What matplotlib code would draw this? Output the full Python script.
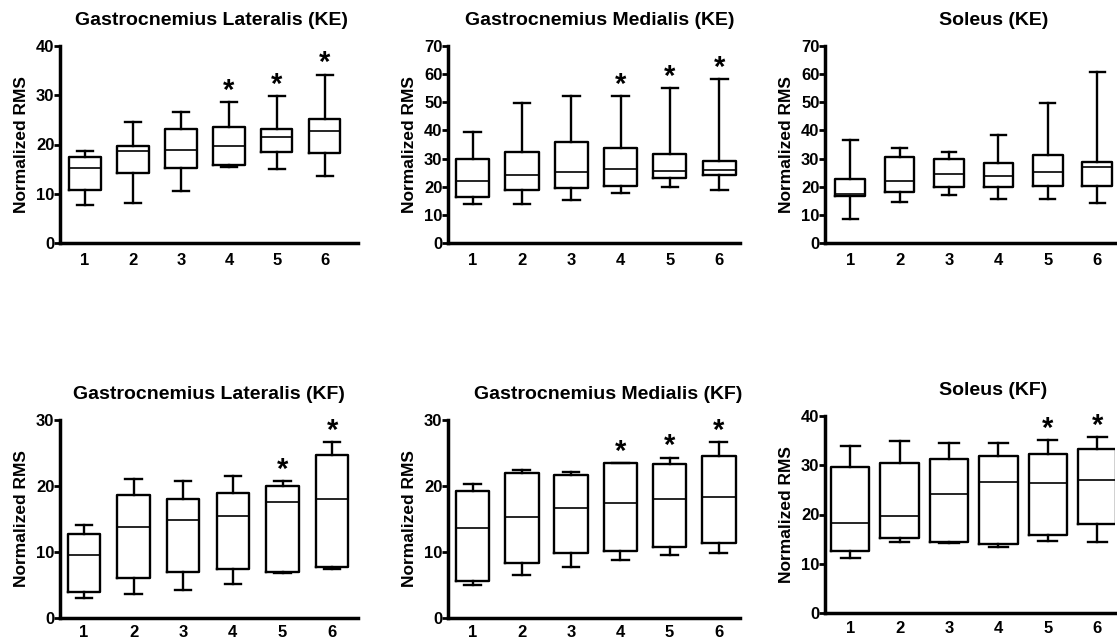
import matplotlib
matplotlib.use('Agg')
import matplotlib.pyplot as plt

plt.rcParams['font.family'] = ['Liberation Sans', 'DejaVu Sans']
plt.rcParams['font.weight'] = 'bold'

groups = ['1', '2', '3', '4', '5', '6']

# Gastrocnemius Lateralis (KE)
gl_ke_low = [7.8, 8.2, 10.5, 15.5, 15.1, 13.6]
gl_ke_q1 = [10.8, 14.2, 15.3, 15.8, 18.4, 18.2]
gl_ke_med = [15.2, 18.7, 18.8, 19.6, 21.5, 22.8]
gl_ke_q3 = [17.4, 19.7, 23.1, 23.6, 23.1, 25.1]
gl_ke_high = [18.7, 24.5, 26.6, 28.6, 29.8, 34.2]
gl_ke_star = ['4', '5', '6']

# Gastrocnemius Medialis (KE)
gm_ke_low = [13.9, 13.9, 15.2, 17.6, 19.8, 18.9]
gm_ke_q1 = [16.4, 18.9, 19.4, 20.4, 23.0, 24.0]
gm_ke_med = [22.2, 24.1, 25.1, 26.3, 25.6, 26.1]
gm_ke_q3 = [29.8, 32.2, 35.9, 33.6, 31.8, 29.2]
gm_ke_high = [39.3, 49.6, 52.2, 52.2, 55.1, 58.3]
gm_ke_star = ['4', '5', '6']

# Soleus (KE)
sol_ke_low = [8.4, 14.6, 16.9, 15.8, 15.8, 14.1]
sol_ke_q1 = [16.6, 18.0, 19.9, 19.8, 20.2, 20.1]
sol_ke_med = [17.4, 22.2, 24.6, 23.9, 25.1, 27.1]
sol_ke_q3 = [22.7, 30.7, 29.8, 28.6, 31.2, 28.7]
sol_ke_high = [36.5, 33.6, 32.2, 38.4, 49.8, 60.6]
sol_ke_star = []

# Gastrocnemius Lateralis (KF)
gl_kf_low = [3.0, 3.7, 4.2, 5.2, 6.8, 7.5]
gl_kf_q1 = [3.9, 6.1, 6.9, 7.4, 6.9, 7.7]
gl_kf_med = [9.6, 13.8, 14.8, 15.4, 17.6, 18.0]
gl_kf_q3 = [12.7, 18.6, 18.0, 19.0, 20.0, 24.7]
gl_kf_high = [14.1, 21.0, 20.8, 21.5, 20.8, 26.7]
gl_kf_star = ['5', '6']

# Gastrocnemius Medialis (KF)
gm_kf_low = [5.0, 6.5, 7.8, 8.8, 9.5, 9.8]
gm_kf_q1 = [5.6, 8.4, 9.9, 10.2, 10.8, 11.3]
gm_kf_med = [13.6, 15.3, 16.6, 17.4, 18.0, 18.3]
gm_kf_q3 = [19.2, 22.0, 21.7, 23.5, 23.3, 24.5]
gm_kf_high = [20.3, 22.4, 22.1, 23.5, 24.3, 26.7]
gm_kf_star = ['4', '5', '6']

# Soleus (KF)
sol_kf_low = [11.1, 14.4, 14.3, 13.4, 14.7, 14.4]
sol_kf_q1 = [12.6, 15.3, 14.5, 14.0, 15.9, 18.1]
sol_kf_med = [18.2, 19.6, 24.2, 26.5, 26.3, 27.0]
sol_kf_q3 = [29.6, 30.4, 31.3, 31.8, 32.3, 33.2]
sol_kf_high = [34.0, 34.9, 34.6, 34.6, 35.1, 35.8]
sol_kf_star = ['5', '6']

titles = ['Gastrocnemius Lateralis (KE)', 'Gastrocnemius Medialis (KE)', 'Soleus (KE)',
          'Gastrocnemius Lateralis (KF)', 'Gastrocnemius Medialis (KF)', 'Soleus (KF)']
ylabel = 'Normalized RMS'

panels = [
    (gl_ke_low, gl_ke_q1, gl_ke_med, gl_ke_q3, gl_ke_high, gl_ke_star),
    (gm_ke_low, gm_ke_q1, gm_ke_med, gm_ke_q3, gm_ke_high, gm_ke_star),
    (sol_ke_low, sol_ke_q1, sol_ke_med, sol_ke_q3, sol_ke_high, sol_ke_star),
    (gl_kf_low, gl_kf_q1, gl_kf_med, gl_kf_q3, gl_kf_high, gl_kf_star),
    (gm_kf_low, gm_kf_q1, gm_kf_med, gm_kf_q3, gm_kf_high, gm_kf_star),
    (sol_kf_low, sol_kf_q1, sol_kf_med, sol_kf_q3, sol_kf_high, sol_kf_star),
]

W, H = 1117, 642
# layout in pixels: (left, right, y of top tick, y of zero)
layout = [
    (60, 358, 46, 243), (448, 740, 46, 243), (825, 1115, 46, 243),
    (60, 358, 420, 618), (448, 740, 420, 618), (825, 1115, 416, 613),
]
ymax = [40, 70, 70, 30, 30, 40]
xlims = [(0.48, 6.69), (0.5, 6.42), (0.49, 6.36), (0.52, 6.52), (0.5, 6.43), (0.49, 6.36)]
widths = [0.65, 0.67, 0.6, 0.65, 0.68, 0.78]
title_x = [0.51, 0.52, 0.58, 0.50, 0.55, 0.58]
title_pad = [15, 15, 15, 15, 15, 15]
xlab_pad = [7, 7, 7, 5, 5, 6]

fig = plt.figure(figsize=(W / 100, H / 100), dpi=100)

for i, (low, q1, med, q3, high, stars) in enumerate(panels):
    l, r, yt, y0 = layout[i]
    ax = fig.add_axes([l / W, 1 - y0 / H, (r - l) / W, (y0 - yt) / H])
    stats = []
    for k, g in enumerate(groups):
        stats.append(dict(label=g, whislo=low[k], q1=q1[k], med=med[k],
                          q3=q3[k], whishi=high[k], fliers=[]))
    pos = list(range(1, len(groups) + 1))
    w = widths[i]
    ax.bxp(stats, positions=pos, widths=w, capwidths=w * 0.5, showfliers=False,
           boxprops=dict(color='black', linewidth=1.7),
           whiskerprops=dict(color='black', linewidth=1.7),
           capprops=dict(color='black', linewidth=1.7),
           medianprops=dict(color='black', linewidth=1.2))
    for k, g in enumerate(groups):
        if g in stars:
            ax.annotate('*', xy=(pos[k], high[k]), xytext=(0, -2), textcoords='offset points',
                        ha='center', va='bottom', fontsize=21, fontweight='bold')
    ax.set_xlim(*xlims[i])
    ax.set_ylim(0, ymax[i])
    ax.set_yticks(range(0, ymax[i] + 1, 10))
    ax.set_xticks(pos)
    ax.set_xticklabels(groups)
    for s in ['top', 'right']:
        ax.spines[s].set_visible(False)
    for s in ['left', 'bottom']:
        ax.spines[s].set_linewidth(2.5)
    ax.tick_params(axis='y', direction='out', length=4, width=2, labelsize=12, pad=0)
    ax.tick_params(axis='x', length=0, labelsize=12, pad=xlab_pad[i])
    for lab in ax.get_xticklabels() + ax.get_yticklabels():
        lab.set_fontweight('bold')
    ax.set_ylabel(ylabel, fontsize=12.5, fontweight='bold', labelpad=5)
    ax.set_title(titles[i], fontsize=14, fontweight='bold', x=title_x[i], pad=title_pad[i])
    ax.patch.set_alpha(0)

fig.savefig('out.png', dpi=100)
